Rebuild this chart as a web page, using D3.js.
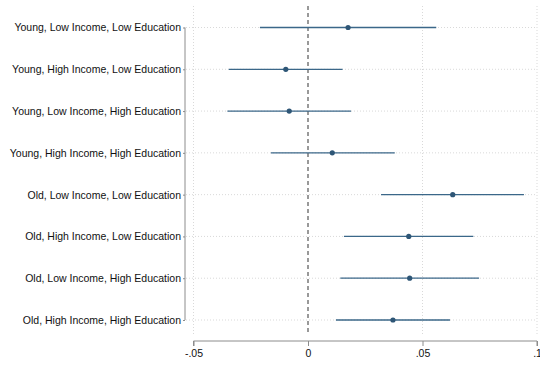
<!DOCTYPE html>
<html>
<head>
<meta charset="utf-8">
<script src="https://cdn.jsdelivr.net/npm/d3@7"></script>
<style>
  body { margin: 0; background: #fff; }
  text { font-family: "Liberation Sans", Arial, sans-serif; }
</style>
</head>
<body>
<div id="chart"></div>
<script>
// coefficient plot data
const groups = [
  "Young, Low Income, Low Education",
  "Young, High Income, Low Education",
  "Young, Low Income, High Education",
  "Young, High Income, High Education",
  "Old, Low Income, Low Education",
  "Old, High Income, Low Education",
  "Old, Low Income, High Education",
  "Old, High Income, High Education"
];
const estimates = [0.0175, -0.0097, -0.0082, 0.0106, 0.0632, 0.0440, 0.0444, 0.0371];
const ciLow  = [-0.0210, -0.0346, -0.0352, -0.0162, 0.0319, 0.0157, 0.0141, 0.0122];
const ciHigh = [0.0560, 0.0151, 0.0188, 0.0379, 0.0943, 0.0722, 0.0747, 0.0620];
const xTicks = [-0.05, 0, 0.05, 0.1];
const xTickLabels = ["-.05", "0", ".05", ".1"];

const width = 540, height = 367;
const svg = d3.select("#chart").append("svg")
  .attr("width", width)
  .attr("height", height);

const x = d3.scaleLinear().domain([-0.05, 0.1]).range([193.5, 537]);
const y = d3.scalePoint().domain(groups).range([27.5, 320]);

const data = groups.map((g, i) => ({ g, est: estimates[i], lo: ciLow[i], hi: ciHigh[i] }));

// grid lines
svg.append("g")
  .selectAll("line")
  .data(xTicks.filter(d => d !== 0))
  .join("line")
  .attr("x1", d => x(d)).attr("x2", d => x(d))
  .attr("y1", 6).attr("y2", 335)
  .attr("stroke", "#d9d9d9")
  .attr("stroke-width", 1)
  .attr("stroke-dasharray", "1,2");

svg.append("g")
  .selectAll("line")
  .data(groups)
  .join("line")
  .attr("x1", 186).attr("x2", 537)
  .attr("y1", d => y(d)).attr("y2", d => y(d))
  .attr("stroke", "#d9d9d9")
  .attr("stroke-width", 1)
  .attr("stroke-dasharray", "1,2");

// zero reference line
svg.append("line")
  .attr("x1", x(0)).attr("x2", x(0))
  .attr("y1", 6).attr("y2", 335)
  .attr("stroke", "#999")
  .attr("stroke-width", 2)
  .attr("stroke-dasharray", "4,3");

// x axis
const xAxis = svg.append("g")
  .attr("transform", "translate(0,341)")
  .call(d3.axisBottom(x).tickValues(xTicks).tickFormat((d, i) => xTickLabels[i]).tickSize(5).tickPadding(4));
xAxis.select(".domain").attr("stroke", "#8c8c8c").attr("d", `M${x(-0.05)},5V0H${x(0.1)}V5`);
xAxis.selectAll(".tick line").attr("stroke", "#8c8c8c");
xAxis.selectAll("text").attr("font-size", 10.5).attr("fill", "#111")
  .attr("font-family", "'Liberation Sans', Arial, sans-serif");

// y axis
const yAxis = svg.append("g")
  .attr("transform", "translate(185,0)")
  .call(d3.axisLeft(y).tickSize(2).tickPadding(2));
yAxis.select(".domain").attr("stroke", "#8c8c8c").attr("d", `M0,${y(groups[0])}V${y(groups[groups.length - 1])}`);
yAxis.selectAll(".tick line").attr("stroke", "#8c8c8c");
yAxis.selectAll("text").attr("font-size", 10.5).attr("fill", "#111")
  .attr("font-family", "'Liberation Sans', Arial, sans-serif");

// confidence intervals
svg.append("g")
  .selectAll("line")
  .data(data)
  .join("line")
  .attr("x1", d => x(d.lo)).attr("x2", d => x(d.hi))
  .attr("y1", d => y(d.g)).attr("y2", d => y(d.g))
  .attr("stroke", "#3b6789")
  .attr("stroke-width", 1.3);

// point estimates
svg.append("g")
  .selectAll("circle")
  .data(data)
  .join("circle")
  .attr("cx", d => x(d.est))
  .attr("cy", d => y(d.g))
  .attr("r", 2.6)
  .attr("fill", "#2e5676");
</script>
</body>
</html>
